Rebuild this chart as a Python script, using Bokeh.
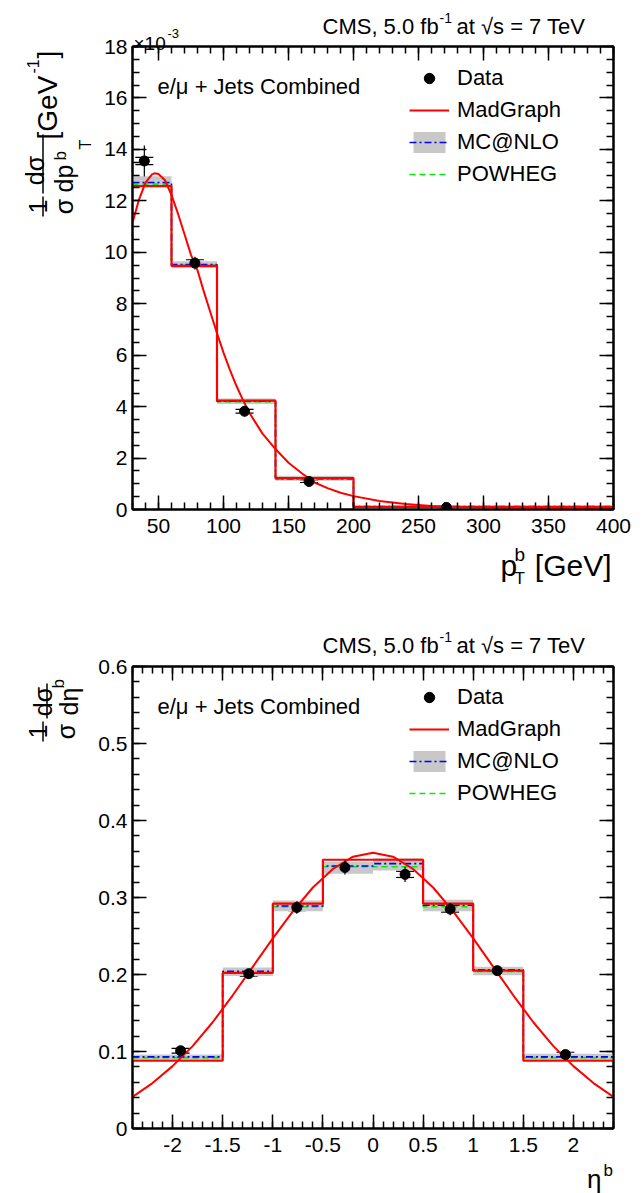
import numpy as np
from math import pi
from bokeh.plotting import figure
from bokeh.models import (Range1d, FixedTicker, LinearAxis, Label, Whisker, TeeHead,
                          ColumnDataSource, Legend, LegendItem, CustomJSTickFormatter, Arrow)
from bokeh.layouts import column
from bokeh.embed import file_html
from bokeh.resources import INLINE

FONT = "Liberation Sans"

# ---------------- top panel (pT of b jets), values in units of 1e-3 GeV^-1 ----------------
pt_edges = [30, 60, 95, 140, 200, 400]
pt_madgraph = [12.57, 9.47, 4.23, 1.22, 0.10]
pt_mcnlo = [12.71, 9.52, 4.21, 1.20, 0.11]
pt_powheg = [12.65, 9.49, 4.19, 1.19, 0.10]
pt_band_lo = [12.55, 9.39, 4.10, 1.12, 0.06]
pt_band_hi = [12.96, 9.65, 4.32, 1.31, 0.15]
pt_data_x = [39.1, 78.0, 116.2, 165.8, 271.5]
pt_data_y = [13.55, 9.58, 3.82, 1.09, 0.08]
pt_data_stat = [0.14, 0.13, 0.07, 0.04, 0.01]
pt_data_tot = [0.60, 0.25, 0.20, 0.08, 0.02]
pt_curve_x = [30, 35, 40, 45, 47, 50, 55, 60, 65, 70, 75, 80, 85, 90, 95, 100, 105, 110,
              115, 120, 130, 140, 150, 160, 170, 180, 190, 200, 220, 240, 260, 280, 300,
              330, 360, 400]
pt_curve_y = [11.15, 12.05, 12.71, 13.03, 13.07, 13.04, 12.80, 12.22, 11.50, 10.70, 9.90,
              9.30, 8.45, 7.65, 6.85, 6.10, 5.42, 4.80, 4.25, 3.75, 2.95, 2.35, 1.82, 1.42,
              1.05, 0.83, 0.65, 0.52, 0.33, 0.21, 0.14, 0.10, 0.08, 0.06, 0.05, 0.05]
pt_xticks = [50, 100, 150, 200, 250, 300, 350, 400]
pt_yticks = [0, 2, 4, 6, 8, 10, 12, 14, 16, 18]

# ---------------- bottom panel (eta of b jets) ----------------
eta_edges = [-2.4, -1.5, -1.0, -0.5, 0.0, 0.5, 1.0, 1.5, 2.4]
eta_madgraph = [0.088, 0.202, 0.292, 0.349, 0.349, 0.292, 0.205, 0.088]
eta_mcnlo = [0.093, 0.204, 0.289, 0.341, 0.344, 0.290, 0.206, 0.093]
eta_powheg = [0.092, 0.203, 0.288, 0.340, 0.340, 0.288, 0.204, 0.092]
eta_band_lo = [0.089, 0.198, 0.282, 0.331, 0.335, 0.282, 0.199, 0.089]
eta_band_hi = [0.096, 0.209, 0.296, 0.346, 0.351, 0.297, 0.210, 0.097]
eta_data_x = [-1.92, -1.24, -0.76, -0.28, 0.32, 0.77, 1.24, 1.92]
eta_data_y = [0.101, 0.201, 0.287, 0.339, 0.330, 0.285, 0.205, 0.096]
eta_data_stat = [0.003, 0.003, 0.004, 0.004, 0.004, 0.004, 0.003, 0.003]
eta_data_tot = [0.004, 0.005, 0.008, 0.009, 0.010, 0.008, 0.005, 0.004]
eta_curve_x = [-2.4, -2.2, -2.0, -1.8, -1.6, -1.4, -1.2, -1.0, -0.8, -0.6, -0.4, -0.2, 0.0,
               0.2, 0.4, 0.6, 0.8, 1.0, 1.2, 1.4, 1.6, 1.8, 2.0, 2.2, 2.4]
eta_curve_y = [0.041, 0.059, 0.081, 0.107, 0.138, 0.173, 0.210, 0.247, 0.282, 0.313, 0.337,
               0.353, 0.358, 0.353, 0.337, 0.313, 0.282, 0.247, 0.210, 0.173, 0.138, 0.107,
               0.081, 0.059, 0.041]
eta_xticks = [-2, -1.5, -1, -0.5, 0, 0.5, 1, 1.5, 2]
eta_yticks = [0, 0.1, 0.2, 0.3, 0.4, 0.5, 0.6]

RED, BLUE, GREEN, GRAY = "#ff0000", "#0000ff", "#00ee00", "#c8c8c8"


def step_xy(edges, vals):
    xs, ys = [], []
    for i, v in enumerate(vals):
        xs += [edges[i], edges[i + 1]]
        ys += [v, v]
    return xs, ys


def add_axes(p, xmaj, xmin, ymaj, ymin):
    fmt = CustomJSTickFormatter(code="return String(tick)")
    blank = CustomJSTickFormatter(code="return ''")
    for loc, maj, mn, f in [("below", xmaj, xmin, fmt), ("above", xmaj, xmin, blank),
                            ("left", ymaj, ymin, fmt), ("right", ymaj, ymin, blank)]:
        ax = LinearAxis(ticker=FixedTicker(ticks=maj, minor_ticks=mn), formatter=f,
                        major_tick_in=14, major_tick_out=0, minor_tick_in=7, minor_tick_out=0,
                        axis_line_width=2, axis_line_color="black",
                        major_tick_line_width=1.5, minor_tick_line_width=1.5,
                        major_tick_line_color="black", minor_tick_line_color="black",
                        major_label_text_font=FONT, major_label_text_font_size="21px",
                        major_label_text_color="black",
                        major_label_standoff=9 if loc == "below" else 5)
        p.add_layout(ax, loc)


def build(edges, mg, nlo, pw, lo, hi, dx, dy, dstat, dtot, cxv, cyv,
          xr, yr, fh, btop, bbot, xmaj, xmin, ymaj, ymin):
    p = figure(frame_width=481, frame_height=fh, x_range=Range1d(*xr), y_range=Range1d(*yr),
               output_backend="svg", toolbar_location=None, x_axis_type=None, y_axis_type=None,
               min_border_left=132, min_border_right=31, min_border_top=btop,
               min_border_bottom=bbot, background_fill_color="white",
               border_fill_color="white", outline_line_color="black", outline_line_width=2)
    p.grid.visible = False
    add_axes(p, xmaj, xmin, ymaj, ymin)

    r_band = p.quad(left=edges[:-1], right=edges[1:], bottom=lo, top=hi,
                    fill_color=GRAY, line_color=None)
    xs, ys = step_xy(edges, pw)
    r_pw = p.line(xs, ys, line_color=GREEN, line_width=1.6, line_dash="6 4")
    xs, ys = step_xy(edges, nlo)
    r_nlo = p.line(xs, ys, line_color=BLUE, line_width=1.6, line_dash="7 3 2 3")
    xs, ys = step_xy(edges, mg)
    r_mg = p.line(xs, ys, line_color=RED, line_width=2.2)
    p.line(cxv, cyv, line_color=RED, line_width=2)

    dx = np.array(dx)
    dy = np.array(dy)
    st = np.array(dstat)
    tt = np.array(dtot)
    p.segment(x0=dx, y0=dy - tt, x1=dx, y1=dy + tt, line_color="black", line_width=1.2)
    src = ColumnDataSource(dict(x=dx, lo=dy - st, hi=dy + st))
    p.add_layout(Whisker(source=src, base="x", lower="lo", upper="hi", dimension="height",
                         line_color="black", line_width=1.2,
                         upper_head=TeeHead(size=18, line_width=1.2, line_color="black"),
                         lower_head=TeeHead(size=18, line_width=1.2, line_color="black")))
    r_data = p.scatter(dx, dy, marker="circle", size=10, color="black")

    legend = Legend(items=[LegendItem(label="Data", renderers=[r_data]),
                           LegendItem(label="MadGraph", renderers=[r_mg]),
                           LegendItem(label="MC@NLO", renderers=[r_band, r_nlo]),
                           LegendItem(label="POWHEG", renderers=[r_pw])],
                    location=(277, 322), orientation="vertical", glyph_width=40,
                    glyph_height=26, label_height=26, label_standoff=8, spacing=6,
                    padding=0, margin=0, border_line_alpha=0, background_fill_alpha=0,
                    label_text_font=FONT, label_text_font_size="22px",
                    label_text_color="black")
    p.add_layout(legend)
    p.add_layout(Label(x=xr[0], y=yr[1], x_offset=25, y_offset=-40,
                       text="e/μ + Jets Combined", text_font=FONT, text_font_size="22px",
                       text_baseline="alphabetic", text_color="black"))
    return p


p1 = build(pt_edges, pt_madgraph, pt_mcnlo, pt_powheg, pt_band_lo, pt_band_hi,
           pt_data_x, pt_data_y, pt_data_stat, pt_data_tot, pt_curve_x, pt_curve_y,
           (30, 400), (0, 18), 463, 46, 88,
           pt_xticks, list(range(30, 401, 10)), pt_yticks,
           [round(0.5 * i, 1) for i in range(0, 37)])

p2 = build(eta_edges, eta_madgraph, eta_mcnlo, eta_powheg, eta_band_lo, eta_band_hi,
           eta_data_x, eta_data_y, eta_data_stat, eta_data_tot, eta_curve_x, eta_curve_y,
           (-2.4, 2.4), (0, 0.6), 462, 69, 65,
           eta_xticks, [round(-2.4 + 0.1 * i, 1) for i in range(0, 49)], eta_yticks,
           [round(0.02 * i, 2) for i in range(0, 31)])

# ---------- transparent overlay carrying the texts that lie outside the frames ----------
ov = figure(width=644, height=1193, x_range=Range1d(0, 644), y_range=Range1d(1193, 0),
            output_backend="svg", toolbar_location=None, x_axis_type=None, y_axis_type=None,
            min_border=0, background_fill_alpha=0, border_fill_alpha=0,
            outline_line_color=None)
ov.grid.visible = False
ov.frame_align = False
ov.styles = {"position": "absolute", "left": "0px", "top": "0px", "z-index": "5"}


def T(px, py, txt, size, align="left", ang=0):
    ov.add_layout(Label(x=px, y=py, text=txt, text_font=FONT, text_font_size=f"{size}px",
                        text_align=align, text_baseline="alphabetic",
                        angle=ang * pi / 180, text_color="black"))


def BAR(px, py0, py1):
    ov.add_layout(Arrow(end=None, start=None, x_start=px, y_start=py0, x_end=px, y_end=py1,
                        line_width=1.5, line_color="black"))


for dy0 in (0, 619):
    T(322, 26 + dy0, "CMS, 5.0 fb", 22)
    T(439, 17 + dy0, "-1", 14)
    T(456, 26 + dy0, "at √s = 7 TeV", 22)

T(133, 43, "×10", 19)
T(167, 33, "-3", 13)
T(500, 565, "p", 30)
T(514, 554, "b", 19)
T(514, 578, "T", 17)
T(611, 565, "[GeV]", 30, "right")
T(37, 206, "1", 25, "center", 90)
T(63, 206, "σ", 25, "center", 90)
T(34, 170, "dσ", 25, "center", 90)
T(63, 192, "dp", 25, "left", 90)
T(60, 160, "b", 17, "left", 90)
T(85, 149, "T", 16, "left", 90)
T(47, 139, "[GeV", 28, "left", 90)
T(32, 73, "-1", 16, "left", 90)
T(47, 58, "]", 28, "left", 90)
BAR(42.5, 196, 216)
BAR(42.5, 134, 193)

T(601, 1178, "η", 26, "right")
T(603, 1170, "b", 17)
T(37, 731, "1", 25, "center", 90)
T(65, 731, "σ", 25, "center", 90)
T(42, 701, "dσ", 25, "center", 90)
T(68, 715, "dη", 25, "left", 90)
T(58, 688, "b", 17, "left", 90)
BAR(42.5, 721, 741)
BAR(46.5, 683, 718)

layout = column(p1, p2, ov, spacing=0)
open("out.html", "w").write(file_html(layout, INLINE))
